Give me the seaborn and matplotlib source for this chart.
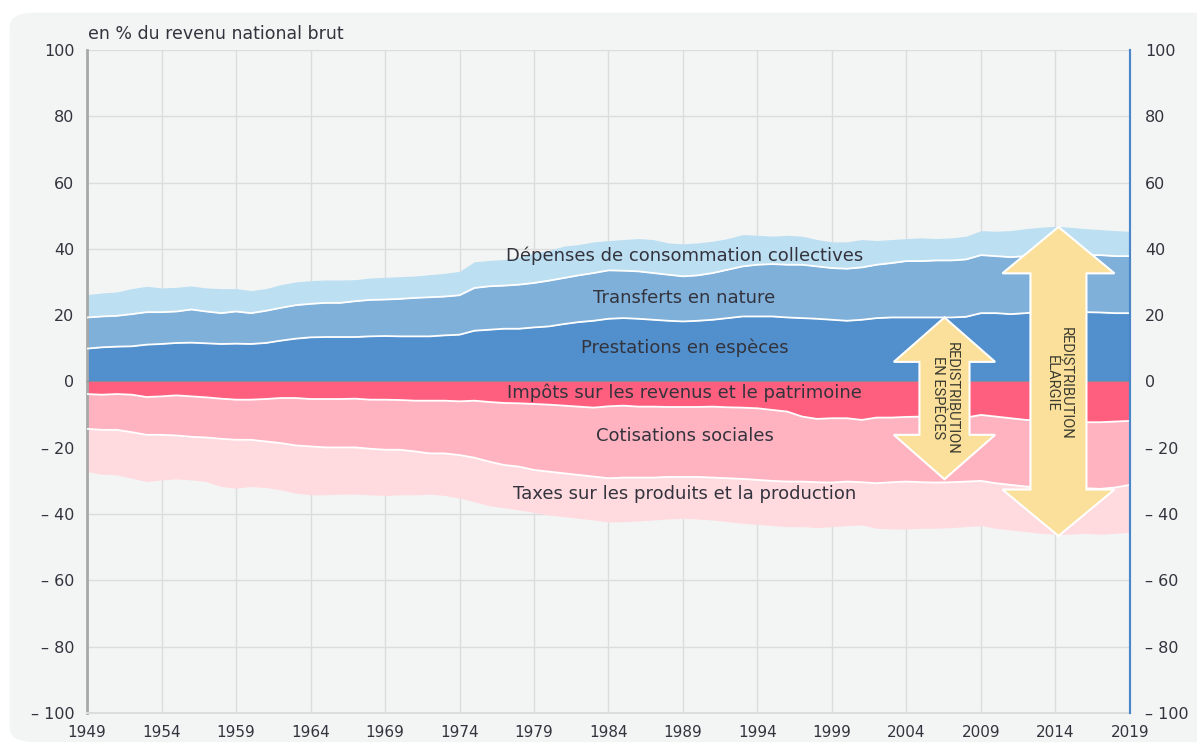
import numpy as np
import pandas as pd
import matplotlib
matplotlib.use("Agg")
import matplotlib.pyplot as plt
from matplotlib.patches import Polygon, FancyBboxPatch
import seaborn as sns

# ---------------- data (in % of GNI) ----------------
years = list(range(1949, 2020))

prestations = [9.9, 10.3, 10.5, 10.6, 11.1, 11.3, 11.6, 11.7, 11.5, 11.3,
               11.4, 11.3, 11.6, 12.3, 12.9, 13.3, 13.4, 13.4, 13.4, 13.6,
               13.7, 13.6, 13.6, 13.6, 13.9, 14.1, 15.3, 15.6, 15.9, 15.9,
               16.3, 16.6, 17.3, 17.9, 18.3, 18.9, 19.1, 18.9, 18.6, 18.3,
               18.1, 18.3, 18.6, 19.1, 19.6, 19.6, 19.6, 19.3, 19.1, 18.9,
               18.6, 18.3, 18.6, 19.1, 19.3, 19.3, 19.3, 19.3, 19.3, 19.5,
               20.6, 20.6, 20.3, 20.6, 20.9, 20.9, 20.9, 20.9, 20.8, 20.6,
               20.6]
transferts = [9.4, 9.3, 9.3, 9.7, 9.8, 9.6, 9.5, 10.0, 9.6, 9.3,
              9.7, 9.3, 9.7, 9.9, 10.1, 10.1, 10.3, 10.3, 10.8, 11.0,
              11.0, 11.3, 11.6, 11.8, 11.7, 11.9, 12.9, 13.1, 13.0, 13.3,
              13.4, 13.8, 13.9, 14.1, 14.4, 14.6, 14.3, 14.3, 14.1, 13.9,
              13.6, 13.7, 14.1, 14.6, 15.1, 15.6, 15.8, 15.9, 16.1, 15.8,
              15.6, 15.7, 15.8, 16.1, 16.4, 17.0, 17.0, 17.2, 17.2, 17.3,
              17.5, 17.2, 17.2, 17.2, 17.2, 17.4, 17.4, 17.2, 17.3, 17.2,
              17.2]
depenses = [6.9, 7.1, 7.2, 7.7, 7.8, 7.3, 7.3, 7.1, 7.1, 7.4,
            6.9, 6.8, 6.7, 7.0, 7.0, 7.0, 6.9, 6.9, 6.5, 6.6,
            6.7, 6.7, 6.6, 6.8, 7.0, 7.2, 7.9, 7.8, 7.9, 8.3,
            9.1, 9.1, 9.6, 9.3, 9.4, 9.0, 9.4, 9.9, 10.1, 9.6,
            9.8, 9.8, 9.6, 9.4, 9.6, 8.9, 8.4, 8.9, 8.6, 8.1,
            7.9, 8.1, 8.4, 7.3, 7.1, 6.8, 7.0, 6.6, 6.8, 7.0,
            7.4, 7.5, 8.0, 8.3, 8.4, 8.5, 8.2, 8.0, 7.7, 7.7,
            7.5]
impots = [-3.8, -4.0, -3.8, -4.0, -4.7, -4.5, -4.2, -4.5, -4.8, -5.2,
          -5.5, -5.5, -5.3, -5.0, -5.0, -5.3, -5.3, -5.3, -5.2, -5.5,
          -5.5, -5.6, -5.8, -5.8, -5.8, -6.0, -5.8, -6.2, -6.5, -6.6,
          -6.8, -7.0, -7.3, -7.6, -7.9, -7.5, -7.3, -7.6, -7.6, -7.7,
          -7.7, -7.7, -7.6, -7.8, -7.9, -8.1, -8.6, -9.1, -10.6, -11.3,
          -11.1, -11.1, -11.6, -10.9, -10.9, -10.7, -10.6, -10.4, -10.6, -10.9,
          -10.1, -10.6, -11.1, -11.6, -11.9, -12.1, -12.1, -12.3, -12.3, -12.1,
          -11.9]
cotisations = [-10.5, -10.6, -10.8, -11.3, -11.4, -11.6, -12.1, -12.2, -12.1, -12.1,
               -12.1, -12.1, -12.8, -13.6, -14.3, -14.3, -14.6, -14.6, -14.7, -14.8,
               -15.1, -15.0, -15.3, -15.9, -15.9, -16.2, -17.2, -18.0, -18.7, -19.1,
               -19.9, -20.2, -20.4, -20.6, -20.8, -21.7, -21.7, -21.4, -21.4, -21.1,
               -21.1, -21.1, -21.4, -21.4, -21.5, -21.6, -21.4, -21.1, -19.6, -19.1,
               -19.4, -19.1, -18.8, -19.8, -19.5, -19.5, -19.8, -20.1, -19.8, -19.3,
               -19.9, -20.1, -20.1, -20.1, -20.1, -20.1, -20.1, -19.9, -20.1, -19.9,
               -19.3]
taxes = [-12.9, -13.4, -13.6, -13.9, -14.1, -13.6, -13.1, -13.0, -13.3, -14.4,
         -14.6, -14.1, -13.9, -14.1, -14.4, -14.6, -14.3, -14.1, -14.1, -13.9,
         -13.8, -13.6, -13.1, -12.3, -12.7, -13.0, -13.3, -13.3, -12.9, -13.1,
         -12.8, -13.1, -13.1, -13.1, -13.1, -13.2, -13.3, -13.1, -12.8, -12.7,
         -12.5, -12.7, -12.8, -13.1, -13.4, -13.4, -13.5, -13.6, -13.6, -13.7,
         -13.3, -13.3, -12.9, -13.6, -14.1, -14.3, -13.9, -13.8, -13.7, -13.6,
         -13.5, -13.6, -13.6, -13.6, -13.8, -13.9, -13.9, -13.6, -13.7, -13.8,
         -14.3]

pos_names = ["Prestations en espèces", "Transferts en nature",
             "Dépenses de consommation collectives"]
neg_names = ["Impôts sur les revenus et le patrimoine", "Cotisations sociales",
             "Taxes sur les produits et la production"]
pos_colors = ["#5190cc", "#7fb0d9", "#bddff2"]
neg_colors = ["#ff5f7e", "#ffb3c0", "#ffdbe0"]

yticks = [100, 80, 60, 40, 20, 0, -20, -40, -60, -80, -100]
ytick_labels = ["100", "80", "60", "40", "20", "0", "– 20", "– 40", "– 60", "– 80", "– 100"]
xticks = list(range(1949, 2020, 5))

# ---------------- figure ----------------
sns.set_theme(style="white")
plt.rcParams["font.family"] = ["DejaVu Sans"]
TXT = "#33333d"

fig = plt.figure(figsize=(11.97, 7.48), dpi=100, facecolor="white")
panel = FancyBboxPatch((0.008, 0.008), 1.2, 0.975, transform=fig.transFigure,
                       boxstyle="round,pad=0,rounding_size=0.02",
                       facecolor="#f3f5f5", edgecolor="none", zorder=-10)
fig.patches.append(panel)

ax = fig.add_axes([0.0727, 0.0468, 0.8713, 0.8865])
ax.set_facecolor("#f3f5f5")

df = pd.DataFrame({"year": years})
x = np.array(years, dtype=float)

# stacking
base = np.zeros(len(years))
pos_series = [prestations, transferts, depenses]
for name, vals, col in zip(pos_names, pos_series, pos_colors):
    top = base + np.array(vals)
    ax.fill_between(x, base, top, color=col, linewidth=0, zorder=2)
    df[name] = top
    base = top
base = np.zeros(len(years))
neg_series = [impots, cotisations, taxes]
for name, vals, col in zip(neg_names, neg_series, neg_colors):
    bot = base + np.array(vals)
    ax.fill_between(x, bot, base, color=col, linewidth=0, zorder=2)
    df[name] = bot
    base = bot

# thin white separators between layers
for name in [pos_names[0], pos_names[1], neg_names[0], neg_names[1]]:
    sns.lineplot(data=df, x="year", y=name, ax=ax, color="white", linewidth=1.3,
                 zorder=3, legend=False)
ax.axhline(0, color="#8a8a9a", linewidth=0.8, zorder=3)

# layer labels
label_x = 1989.1
label_y = [10.3, 25.3, 37.9, -3.3, -16.5, -34.0]
for name, yy in zip(pos_names + neg_names, label_y):
    ax.text(label_x, yy, name, ha="center", va="center", fontsize=13,
            color=TXT, zorder=5)

# double arrows
def double_arrow(cx, top, bot, hw, sw, hl):
    pts = [(cx, top), (cx + hw, top - hl), (cx + sw, top - hl), (cx + sw, bot + hl),
           (cx + hw, bot + hl), (cx, bot), (cx - hw, bot + hl), (cx - sw, bot + hl),
           (cx - sw, top - hl), (cx - hw, top - hl)]
    ax.add_patch(Polygon(pts, closed=True, facecolor="#fae09a", edgecolor="white",
                         linewidth=1.5, zorder=6))

double_arrow(2006.55, 19.3, -29.5, 3.4, 1.68, 13.4)
double_arrow(2014.2, 46.6, -46.6, 3.76, 1.88, 14.0)
arrow_font = ["Liberation Sans Narrow", "Roboto", "DejaVu Sans"]
ax.text(2006.6, -5.0, "REDISTRIBUTION\nEN ESPÈCES", rotation=270, ha="center",
        va="center", fontsize=10.5, color="#3a3a30", family=arrow_font,
        linespacing=1.0, zorder=7)
ax.text(2014.2, -0.6, "REDISTRIBUTION\nÉLARGIE", rotation=270, ha="center",
        va="center", fontsize=10.5, color="#3a3a30", family=arrow_font,
        linespacing=1.0, zorder=7)

# axes styling
ax.set_xlim(1949, 2019)
ax.set_ylim(-100, 100)
ax.set_xticks(xticks)
ax.set_xticklabels([str(t) for t in xticks], fontsize=11, color=TXT)
ax.set_yticks(yticks)
ax.set_yticklabels(ytick_labels, fontsize=11.5, color=TXT)
ax.grid(True, color="#dcdcdc", linewidth=1.0, zorder=0)
ax.set_axisbelow(True)
ax.tick_params(axis="x", length=0, pad=9)
ax.tick_params(axis="y", length=0, pad=9)
ax.set_xlabel("")
ax.set_ylabel("")
ax.spines["top"].set_visible(False)
ax.spines["left"].set_color("#a8a8a8")
ax.spines["left"].set_linewidth(2.0)
ax.spines["bottom"].set_color("#dcdcdc")
ax.spines["bottom"].set_linewidth(1.5)
ax.spines["right"].set_color("#4a86c8")
ax.spines["right"].set_linewidth(1.5)

ax2 = ax.twinx()
ax2.set_ylim(-100, 100)
ax2.set_yticks(yticks)
ax2.set_yticklabels(ytick_labels, fontsize=11.5, color=TXT)
ax2.tick_params(axis="y", length=0, pad=11)
for s in ["top", "left", "bottom"]:
    ax2.spines[s].set_visible(False)
ax2.spines["right"].set_color("#4a86c8")
ax2.spines["right"].set_linewidth(1.5)
ax2.grid(False)

fig.text(0.0735, 0.955, "en % du revenu national brut", ha="left", va="center",
         fontsize=12.5, color=TXT)

fig.savefig("out.png", dpi=100, facecolor="white")
